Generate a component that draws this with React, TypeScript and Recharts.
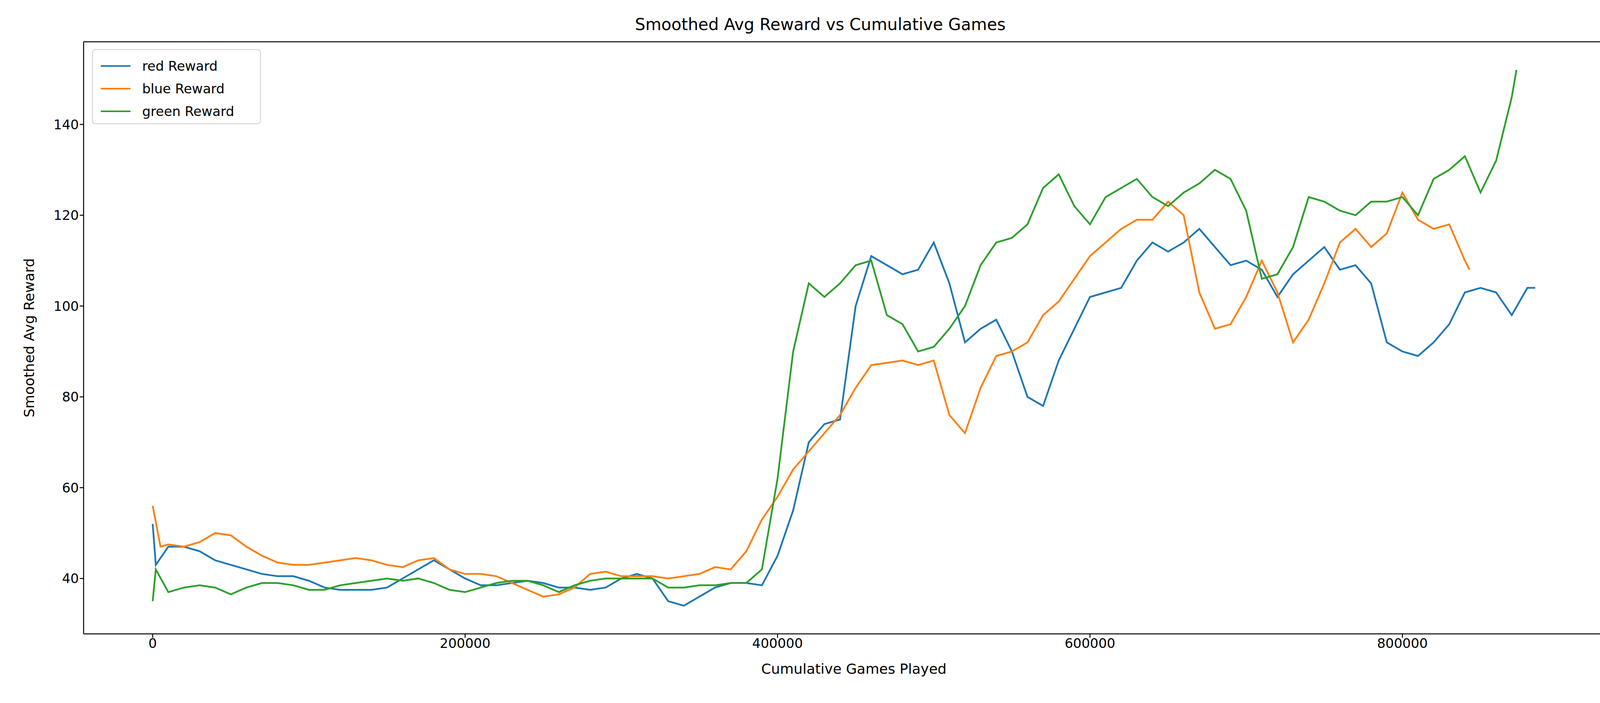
import { LineChart, Line, XAxis, YAxis } from "recharts";

const RED_X = [0, 2000, 10000, 20000, 30000, 40000, 50000, 60000, 70000, 80000, 90000, 100000, 110000, 120000, 130000, 140000, 150000, 160000, 170000, 180000, 190000, 200000, 210000, 220000, 230000, 240000, 250000, 260000, 270000, 280000, 290000, 300000, 310000, 320000, 330000, 340000, 350000, 360000, 370000, 380000, 390000, 400000, 410000, 420000, 430000, 440000, 450000, 460000, 470000, 480000, 490000, 500000, 510000, 520000, 530000, 540000, 550000, 560000, 570000, 580000, 590000, 600000, 610000, 620000, 630000, 640000, 650000, 660000, 670000, 680000, 690000, 700000, 710000, 720000, 730000, 740000, 750000, 760000, 770000, 780000, 790000, 800000, 810000, 820000, 830000, 840000, 850000, 860000, 870000, 880000, 885000];
const RED_Y = [52, 43, 47, 47, 46, 44, 43, 42, 41, 40.5, 40.5, 39.5, 38, 37.5, 37.5, 37.5, 38, 40, 42, 44, 42, 40, 38.5, 38.5, 39, 39.5, 39, 38, 38, 37.5, 38, 40, 41, 40, 35, 34, 36, 38, 39, 39, 38.5, 45, 55, 70, 74, 75, 100, 111, 109, 107, 108, 114, 105, 92, 95, 97, 90, 80, 78, 88, 95, 102, 103, 104, 110, 114, 112, 114, 117, 113, 109, 110, 108, 102, 107, 110, 113, 108, 109, 105, 92, 90, 89, 92, 96, 103, 104, 103, 98, 104, 104];

const BLUE_X = [0, 5000, 10000, 20000, 30000, 40000, 50000, 60000, 70000, 80000, 90000, 100000, 110000, 120000, 130000, 140000, 150000, 160000, 170000, 180000, 190000, 200000, 210000, 220000, 230000, 240000, 250000, 260000, 270000, 280000, 290000, 300000, 310000, 320000, 330000, 340000, 350000, 360000, 370000, 380000, 390000, 400000, 410000, 420000, 430000, 440000, 450000, 460000, 470000, 480000, 490000, 500000, 510000, 520000, 530000, 540000, 550000, 560000, 570000, 580000, 590000, 600000, 610000, 620000, 630000, 640000, 650000, 660000, 670000, 680000, 690000, 700000, 710000, 720000, 730000, 740000, 750000, 760000, 770000, 780000, 790000, 800000, 810000, 820000, 830000, 840000, 843000];
const BLUE_Y = [56, 47, 47.5, 47, 48, 50, 49.5, 47, 45, 43.5, 43, 43, 43.5, 44, 44.5, 44, 43, 42.5, 44, 44.5, 42, 41, 41, 40.5, 39, 37.5, 36, 36.5, 38, 41, 41.5, 40.5, 40.5, 40.5, 40, 40.5, 41, 42.5, 42, 46, 53, 58, 64, 68, 72, 76, 82, 87, 87.5, 88, 87, 88, 76, 72, 82, 89, 90, 92, 98, 101, 106, 111, 114, 117, 119, 119, 123, 120, 103, 95, 96, 102, 110, 103, 92, 97, 105, 114, 117, 113, 116, 125, 119, 117, 118, 110, 108];

const GREEN_X = [0, 2000, 10000, 20000, 30000, 40000, 50000, 60000, 70000, 80000, 90000, 100000, 110000, 120000, 130000, 140000, 150000, 160000, 170000, 180000, 190000, 200000, 210000, 220000, 230000, 240000, 250000, 260000, 270000, 280000, 290000, 300000, 310000, 320000, 330000, 340000, 350000, 360000, 370000, 380000, 390000, 400000, 410000, 420000, 430000, 440000, 450000, 460000, 470000, 480000, 490000, 500000, 510000, 520000, 530000, 540000, 550000, 560000, 570000, 580000, 590000, 600000, 610000, 620000, 630000, 640000, 650000, 660000, 670000, 680000, 690000, 700000, 710000, 720000, 730000, 740000, 750000, 760000, 770000, 780000, 790000, 800000, 810000, 820000, 830000, 840000, 850000, 860000, 870000, 873000];
const GREEN_Y = [35, 42, 37, 38, 38.5, 38, 36.5, 38, 39, 39, 38.5, 37.5, 37.5, 38.5, 39, 39.5, 40, 39.5, 40, 39, 37.5, 37, 38, 39, 39.5, 39.5, 38.5, 37, 38.5, 39.5, 40, 40, 40, 40, 38, 38, 38.5, 38.5, 39, 39, 42, 62, 90, 105, 102, 105, 109, 110, 98, 96, 90, 91, 95, 100, 109, 114, 115, 118, 126, 129, 122, 118, 124, 126, 128, 124, 122, 125, 127, 130, 128, 121, 106, 107, 113, 124, 123, 121, 120, 123, 123, 124, 120, 128, 130, 133, 125, 132, 146, 152];

const X_TICKS = [0, 200000, 400000, 600000, 800000];
const Y_TICKS = [40, 60, 80, 100, 120, 140];

const SERIES = [
  { name: "red Reward", color: "#1f77b4", xs: RED_X, ys: RED_Y },
  { name: "blue Reward", color: "#ff7f0e", xs: BLUE_X, ys: BLUE_Y },
  { name: "green Reward", color: "#2ca02c", xs: GREEN_X, ys: GREEN_Y },
];

const font = "DejaVu Sans";
const tick = { fontSize: 34, fill: "#000", fontFamily: font };

export default function App() {
  return (
    <div style={{ position: "fixed", left: 0, top: 0, width: 4200, height: 1800, background: "#fff", fontFamily: font }}>
      <div style={{ position: "absolute", top: 38, width: "100%", textAlign: "center", fontSize: 42 }}>
        Smoothed Avg Reward vs Cumulative Games
      </div>
      <LineChart width={4200} height={1800} margin={{ top: 107, right: 42, left: 94, bottom: 67 }}>
        <XAxis type="number" dataKey="x" domain={[-44222, 942000]} ticks={X_TICKS} allowDataOverflow
          tick={tick} tickLine={{ stroke: "#000", strokeWidth: 2.5 }} tickSize={10}
          axisLine={{ stroke: "#000", strokeWidth: 2.5 }} height={110}
          label={{ value: "Cumulative Games Played", position: "insideBottom", offset: 8, fontSize: 36, fill: "#000", fontFamily: font }} />
        <YAxis type="number" domain={[27.8, 158.2]} ticks={Y_TICKS} allowDataOverflow width={120}
          tick={tick} tickLine={{ stroke: "#000", strokeWidth: 2.5 }} tickSize={10}
          axisLine={{ stroke: "#000", strokeWidth: 2.5 }}
          label={{ value: "Smoothed Avg Reward", angle: -90, position: "insideLeft", offset: -20, fontSize: 36, fill: "#000", fontFamily: font, style: { textAnchor: "middle" } }} />
        {SERIES.map(s => (
          <Line key={s.name} data={s.xs.map((x, i) => ({ x, y: s.ys[i] }))} dataKey="y" name={s.name}
            stroke={s.color} strokeWidth={4.5} dot={false} type="linear" isAnimationActive={false} />
        ))}
        <line x1={4158} y1={107} x2={4158} y2={1623} stroke="#000" strokeWidth={2.5} />
        <line x1={214} y1={107} x2={4158} y2={107} stroke="#000" strokeWidth={2.5} />
      </LineChart>
      <div style={{ position: "absolute", left: 236, top: 126, width: 432, height: 192, border: "2px solid #d0d0d0", borderRadius: 8, boxSizing: "border-box", padding: "12px 20px", background: "#fff" }}>
        {SERIES.map(s => (
          <div key={s.name} style={{ display: "flex", alignItems: "center", height: 58, fontSize: 34 }}>
            <div style={{ width: 76, height: 4.5, background: s.color, marginRight: 30 }} />
            {s.name}
          </div>
        ))}
      </div>
    </div>
  );
}
